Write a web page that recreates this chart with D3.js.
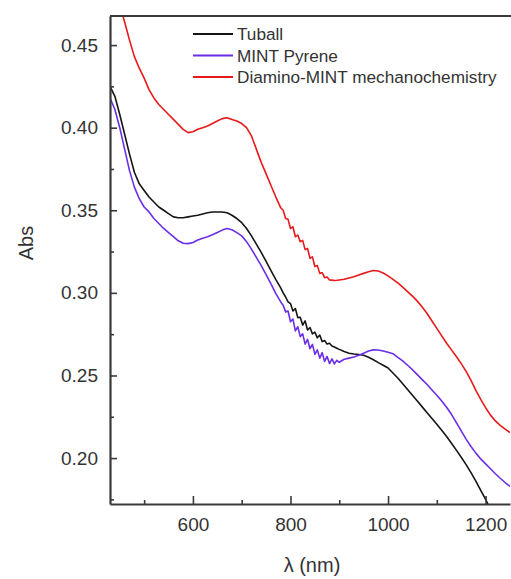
<!DOCTYPE html>
<html>
<head>
<meta charset="utf-8">
<script src="https://cdn.jsdelivr.net/npm/d3@7"></script>
<style>
  body { margin: 0; background: #fff; }
  svg { display: block; font-family: "Liberation Sans", Arial, sans-serif; }
</style>
</head>
<body>
<div id="chart"></div>
<script>
// wavelength (nm), denser where the spectra are noisy
const wavelengths = [
  430, 440, 450, 460, 470, 480, 490, 500, 510, 520, 530, 540, 550, 560, 570, 580, 590, 600,
  610, 620, 630, 640, 650, 660, 670, 680, 690, 700, 710, 720, 730, 740, 750, 760, 770, 780,
  785, 790, 795, 800, 805, 810, 815, 820, 825, 830, 835, 840, 845, 850, 855, 860, 865, 870,
  875, 880, 885, 890, 895, 900,
  910, 920, 930, 940, 950, 960, 970, 980, 990, 1000, 1010, 1020, 1030, 1040, 1050, 1060,
  1070, 1080, 1090, 1100, 1110, 1120, 1130, 1140, 1150, 1160, 1170, 1180, 1190, 1200,
  1210, 1220, 1230, 1240, 1250
];

const tuball = [
  0.425, 0.419, 0.408, 0.396, 0.384, 0.373, 0.366, 0.362, 0.358, 0.355, 0.352, 0.350, 0.348, 0.346, 0.3455, 0.3455, 0.346, 0.3465,
  0.347, 0.3478, 0.3485, 0.349, 0.349, 0.349, 0.3485, 0.347, 0.345, 0.3425, 0.339, 0.3345, 0.3295, 0.3245, 0.319, 0.3135, 0.308, 0.303,
  0.300, 0.2975, 0.2945, 0.2935, 0.2890, 0.2905, 0.2850, 0.2852, 0.2805, 0.2830, 0.2775, 0.2790, 0.2752, 0.2762, 0.2728, 0.2745, 0.2705, 0.2712,
  0.2690, 0.2695, 0.2678, 0.2672, 0.2665, 0.2658,
  0.2645, 0.2635, 0.263, 0.2627, 0.2622, 0.261, 0.2595, 0.2578, 0.2562, 0.2545, 0.2515, 0.2485, 0.245, 0.2415, 0.238, 0.2345,
  0.231, 0.2275, 0.224, 0.2205, 0.2168, 0.213, 0.209, 0.2048, 0.2005, 0.196, 0.1912, 0.186, 0.1805, 0.175,
  0.169, 0.163, 0.157, 0.151, 0.145
];

const mintPyrene = [
  0.418, 0.411, 0.400, 0.387, 0.374, 0.364, 0.357, 0.352, 0.349, 0.345, 0.342, 0.339, 0.3365, 0.334, 0.3315, 0.330, 0.3298, 0.3305,
  0.332, 0.333, 0.334, 0.3352, 0.3365, 0.338, 0.339, 0.3382, 0.3365, 0.3345, 0.331, 0.3265, 0.3215, 0.3165, 0.311, 0.3055, 0.2995, 0.2945,
  0.2925, 0.2885, 0.2890, 0.2825, 0.2842, 0.2770, 0.2795, 0.2735, 0.2752, 0.2690, 0.2718, 0.2662, 0.2688, 0.2628, 0.2655, 0.2605, 0.2638, 0.2585,
  0.2615, 0.2572, 0.2600, 0.2570, 0.2592, 0.2580,
  0.2598, 0.2605, 0.2612, 0.2622, 0.2635, 0.2648, 0.2655, 0.2654, 0.2648, 0.264, 0.2632, 0.261, 0.2588, 0.2562, 0.2535, 0.2505,
  0.2475, 0.2445, 0.2412, 0.238, 0.2345, 0.2308, 0.2265, 0.2215, 0.2165, 0.2115, 0.207, 0.203, 0.1995, 0.1965,
  0.1935, 0.1905, 0.1878, 0.1852, 0.1828
];

const diamino = [
  0.500, 0.488, 0.474, 0.464, 0.453, 0.443, 0.436, 0.430, 0.423, 0.418, 0.414, 0.411, 0.408, 0.405, 0.402, 0.399, 0.397, 0.3975,
  0.399, 0.400, 0.401, 0.4025, 0.404, 0.4055, 0.406, 0.405, 0.404, 0.4025, 0.400, 0.395, 0.387, 0.379, 0.372, 0.365, 0.358, 0.3515,
  0.3500, 0.3450, 0.3445, 0.3390, 0.3400, 0.3340, 0.3350, 0.3310, 0.3318, 0.3262, 0.3268, 0.3210, 0.3218, 0.3160, 0.3165, 0.3118, 0.3122, 0.3092,
  0.3096, 0.3078, 0.3077, 0.3075, 0.3076, 0.3078,
  0.3082, 0.309, 0.3098, 0.3108, 0.3118, 0.3128, 0.3135, 0.3132, 0.312, 0.3103, 0.3082, 0.306, 0.3035, 0.3008, 0.298, 0.295,
  0.2915, 0.2875, 0.283, 0.2785, 0.274, 0.2695, 0.2655, 0.2615, 0.2572, 0.2525, 0.247, 0.241, 0.2355, 0.2305,
  0.226, 0.2225, 0.2198, 0.2175, 0.2155
];

const seriesNames = ["Tuball", "MINT Pyrene", "Diamino-MINT mechanochemistry"];
const xMajorTicks = [600, 800, 1000, 1200];
const xMinorTicks = [500, 700, 900, 1100];
const yMajorTicks = [0.20, 0.25, 0.30, 0.35, 0.40, 0.45];
const yMinorTicks = [0.175, 0.225, 0.275, 0.325, 0.375, 0.425];

const W = 511, H = 579;
const margin = { top: 16, right: 1, bottom: 75, left: 110 };
const colors = ["#151515", "#6a2ee8", "#e8191b"];

const svg = d3.select("#chart").append("svg")
  .attr("width", W)
  .attr("height", H);

const x = d3.scaleLinear().domain([430, 1250]).range([margin.left, W - margin.right]);
const y = d3.scaleLinear().domain([0.1722, 0.4676]).range([H - margin.bottom, margin.top]);

svg.append("clipPath").attr("id", "plot-clip")
  .append("rect")
  .attr("x", margin.left)
  .attr("y", margin.top)
  .attr("width", W - margin.right - margin.left)
  .attr("height", H - margin.bottom - margin.top);

const series = [tuball, mintPyrene, diamino].map((vals, i) => ({
  name: seriesNames[i],
  color: colors[i],
  points: wavelengths.map((w, j) => [w, vals[j]])
}));

const line = d3.line().x(d => x(d[0])).y(d => y(d[1]));

svg.append("g").attr("clip-path", "url(#plot-clip)")
  .selectAll("path")
  .data(series)
  .enter()
  .append("path")
  .attr("d", d => line(d.points))
  .attr("fill", "none")
  .attr("stroke", d => d.color)
  .attr("stroke-width", 1.6)
  .attr("stroke-linejoin", "round");

// axes - ticks point inward like the original
const axisColor = "#3a3a3a";
const textColor = "#333";

svg.append("g")
  .attr("transform", `translate(${margin.left},0)`)
  .call(d3.axisLeft(y).tickValues(yMajorTicks).tickSize(-7).tickSizeOuter(0)
    .tickPadding(12).tickFormat(d3.format(".2f")));
svg.append("g")
  .attr("transform", `translate(${margin.left},0)`)
  .call(d3.axisLeft(y).tickValues(yMinorTicks).tickSize(-4).tickSizeOuter(0).tickFormat(""))
  .select(".domain").remove();

svg.append("g")
  .attr("transform", `translate(0,${H - margin.bottom})`)
  .call(d3.axisBottom(x).tickValues(xMajorTicks).tickSize(-8).tickSizeOuter(0)
    .tickPadding(14).tickFormat(d3.format("d")));
svg.append("g")
  .attr("transform", `translate(0,${H - margin.bottom})`)
  .call(d3.axisBottom(x).tickValues(xMinorTicks).tickSize(-4).tickSizeOuter(0).tickFormat(""))
  .select(".domain").remove();

svg.selectAll(".domain").attr("stroke", axisColor).attr("stroke-width", 2.2);
svg.selectAll(".tick line").attr("stroke", axisColor).attr("stroke-width", 1.6);
svg.selectAll(".tick text")
  .attr("fill", textColor)
  .style("font-size", "19px")
  .style("font-family", "'Liberation Sans', Arial, sans-serif");

// top frame line
svg.append("line")
  .attr("x1", margin.left).attr("x2", W)
  .attr("y1", margin.top).attr("y2", margin.top)
  .attr("stroke", axisColor)
  .attr("stroke-width", 2.2);

// axis titles
svg.append("text")
  .attr("transform", "translate(33,243) rotate(-90)")
  .attr("text-anchor", "middle")
  .attr("fill", textColor)
  .style("font-size", "20px")
  .text("Abs");

svg.append("text")
  .attr("x", 312)
  .attr("y", 572)
  .attr("text-anchor", "middle")
  .attr("fill", textColor)
  .style("font-size", "20px")
  .text("λ (nm)");

// legend
const legend = svg.append("g").attr("transform", "translate(193,34)");
const rows = legend.selectAll("g")
  .data(series)
  .enter()
  .append("g")
  .attr("transform", (d, i) => `translate(0,${i * 21.5})`);
rows.append("line")
  .attr("x1", 0).attr("x2", 40)
  .attr("stroke", d => d.color)
  .attr("stroke-width", 1.8);
rows.append("text")
  .attr("x", 44)
  .attr("dy", "0.36em")
  .attr("fill", textColor)
  .style("font-size", "17.2px")
  .text(d => d.name);
</script>
</body>
</html>
